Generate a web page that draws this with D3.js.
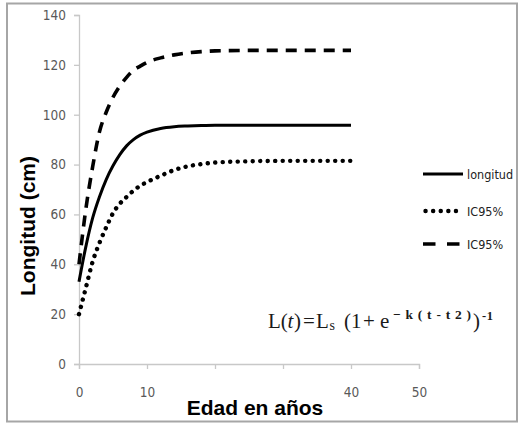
<!DOCTYPE html>
<html><head><meta charset="utf-8">
<script src="https://cdn.jsdelivr.net/npm/d3@7/dist/d3.min.js"></script>
<style>
html,body{margin:0;padding:0;background:#fff;}
svg{display:block;}
</style></head>
<body>
<svg id="chart" width="524" height="423"></svg>
<script>
const ages =      [0, 1, 2, 3, 4, 5, 6, 7, 8, 9, 10, 12, 14, 16, 18, 20, 25, 30, 35, 40];
const longitud =  [33, 47, 58.5, 67, 74, 79.5, 84, 87.5, 90, 91.8, 93, 94.5, 95.2, 95.5, 95.7, 95.8, 95.8, 95.8, 95.8, 95.8];
const icLower =   [20, 30.5, 41, 48.5, 54.8, 60.5, 64.3, 67, 69.5, 71.5, 73, 75.5, 77.8, 79.3, 80.2, 80.8, 81.3, 81.5, 81.5, 81.5];
const icUpper =   [40, 62, 79, 93, 101, 107, 111.5, 115, 117.8, 119.5, 121, 122.8, 124, 124.8, 125.3, 125.6, 125.8, 125.8, 125.8, 125.8];
const xTicks = [0, 10, 20, 30, 40, 50];
const xTickLabels = ["0", "10", "", "", "40", "50"];
const yTicks = [0, 20, 40, 60, 80, 100, 120, 140];
const legendLabels = ["longitud", "IC95%", "IC95%"];

const svg = d3.select("#chart");
const x = d3.scaleLinear().domain([0, 50]).range([79, 419]);
const y = d3.scaleLinear().domain([0, 140]).range([364, 15]);

// outer border
svg.append("rect").attr("x", 7).attr("y", 3.5).attr("width", 510).attr("height", 418)
  .attr("fill", "#fff").attr("stroke", "#a6a6a6").attr("stroke-width", 2);

const tickFont = "'Liberation Sans Narrow','Arial Narrow','DejaVu Sans Condensed',sans-serif";
const boldFont = "'Liberation Sans',Arial,sans-serif";

// Y axis
const yAxis = svg.append("g").attr("transform", `translate(${x(0)},0)`)
  .call(d3.axisLeft(y).tickValues(yTicks).tickSize(5).tickPadding(8));
// X axis
const xAxis = svg.append("g").attr("transform", `translate(0,${y(0)})`)
  .call(d3.axisBottom(x).tickValues(xTicks).tickSize(5).tickPadding(18)
    .tickFormat((d, i) => xTickLabels[i]));
[yAxis, xAxis].forEach(g => {
  g.selectAll("path,line").attr("stroke", "#c8c8c8").attr("stroke-width", 1.3);
  g.selectAll("text").attr("fill", "#595959").style("font-family", tickFont).style("font-size", "13.5px");
});

// lines
const line = d3.line().x((d, i) => x(ages[i])).y(d => y(d)).curve(d3.curveMonotoneX);
const series = [
  {vals: icUpper, dash: "11,8", width: 3.6, cap: "butt"},
  {vals: icLower, dash: "0.1,7.4", width: 4.4, cap: "round"},
  {vals: longitud, dash: null, width: 3, cap: "butt"}
];
series.forEach(s => {
  svg.append("path").datum(s.vals).attr("d", line)
    .attr("fill", "none").attr("stroke", "#000").attr("stroke-width", s.width)
    .attr("stroke-linecap", s.cap)
    .attr("stroke-dasharray", s.dash);
});

// legend
const legStyles = [
  {dash: null, width: 3, cap: "butt", x1: 423},
  {dash: "0.1,7.5", width: 4.4, cap: "round", x1: 425.5},
  {dash: "12.5,11.5", width: 3.6, cap: "butt", x1: 423}
];
const legY = [174, 211, 244];
legendLabels.forEach((lab, i) => {
  const st = legStyles[i];
  svg.append("line").attr("x1", st.x1).attr("x2", 463)
    .attr("y1", legY[i]).attr("y2", legY[i])
    .attr("stroke", "#000").attr("stroke-width", st.width)
    .attr("stroke-linecap", st.cap).attr("stroke-dasharray", st.dash);
  svg.append("text").attr("x", 467).attr("y", legY[i] + 4.5)
    .style("font-family", tickFont).style("font-size", "12.5px").attr("fill", "#222")
    .text(lab);
});

// axis titles
svg.append("text").attr("transform", "translate(35,226) rotate(-90)")
  .attr("text-anchor", "middle")
  .style("font-family", boldFont).style("font-weight", "bold").style("font-size", "21px")
  .text("Longitud (cm)");
svg.append("text").attr("x", 255).attr("y", 415).attr("text-anchor", "middle")
  .style("font-family", boldFont).style("font-weight", "bold").style("font-size", "21px")
  .text("Edad en años");

// formula
const serif = "'Liberation Serif','Times New Roman',serif";
const fg = svg.append("g").attr("fill", "#1a1a1a").style("font-family", serif);
const parts = [
  {t: "L(", x: 268, y: 328, s: 21},
  {t: "t", x: 287.5, y: 328, s: 21, it: true},
  {t: ")", x: 294, y: 328, s: 21},
  {t: "=", x: 303, y: 328, s: 21},
  {t: "L", x: 316, y: 328, s: 21},
  {t: "s", x: 329.5, y: 330, s: 14},
  {t: "(1", x: 344, y: 328, s: 21},
  {t: "+", x: 363, y: 328, s: 21},
  {t: "e", x: 380, y: 328, s: 21},
  {t: "\u2212k(t-t2)", x: 393, y: 319, s: 13.5, len: 78, bold: true},
  {t: ")", x: 473, y: 328, s: 21},
  {t: "-1", x: 482, y: 320, s: 12.5, len: 11, bold: true}
];
parts.forEach(p => {
  const t = fg.append("text").attr("x", p.x).attr("y", p.y).style("font-size", p.s + "px")
    .style("font-style", p.it ? "italic" : "normal")
    .style("font-weight", p.bold ? "bold" : "normal").text(p.t);
  if (p.len) t.attr("textLength", p.len).attr("lengthAdjust", "spacing");
});
</script>
</body></html>
